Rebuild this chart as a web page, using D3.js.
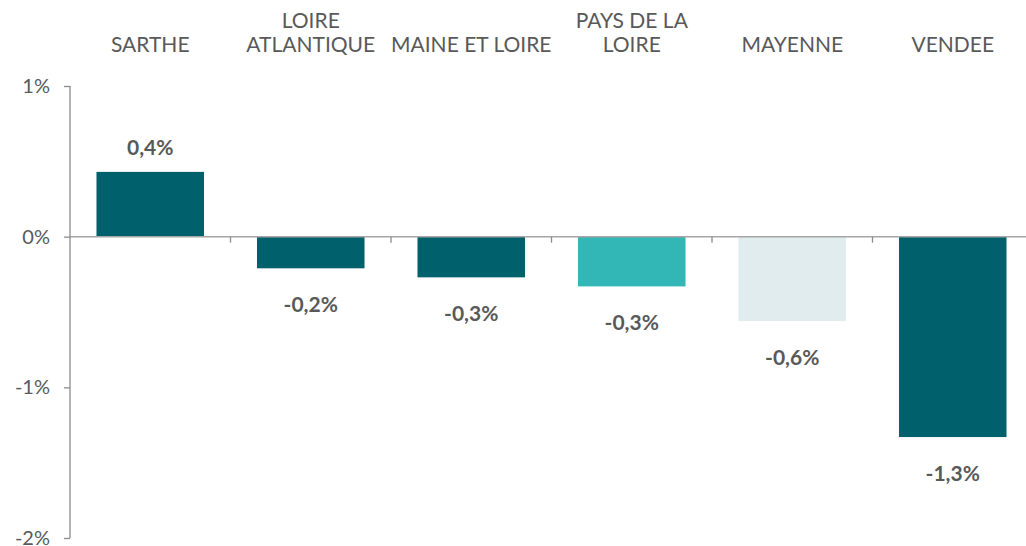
<!DOCTYPE html>
<html>
  <head>
    <meta charset="utf-8" />
    <title>Variation par département</title>
    <script src="https://d3js.org/d3.v7.min.js"></script>
    <style>
      body {
        margin: 0;
        background-color: #ffffff;
      }
      text {
        font-family: "Lato", "Open Sans", sans-serif;
      }
    </style>
  </head>
  <body>
    <svg id="chart">
      <g id="bars"></g>
      <g id="x"></g>
      <g id="y"></g>
      <g id="labels"></g>
      <g id="heads"></g>
    </svg>

    <script>

      // data
      var categories = ["SARTHE", "LOIRE ATLANTIQUE", "MAINE ET LOIRE", "PAYS DE LA LOIRE", "MAYENNE", "VENDEE"];
      var headLines = [["SARTHE"], ["LOIRE", "ATLANTIQUE"], ["MAINE ET LOIRE"], ["PAYS DE LA", "LOIRE"], ["MAYENNE"], ["VENDEE"]];
      var values = [0.43, -0.21, -0.27, -0.33, -0.56, -1.33];
      var valueLabels = ["0,4%", "-0,2%", "-0,3%", "-0,3%", "-0,6%", "-1,3%"];
      var barColors = ["#00606b", "#00606b", "#00606b", "#33b6b6", "#e0ecee", "#00606b"];
      var yTicks = [1, 0, -1, -2];
      var yTickLabels = ["1%", "0%", "-1%", "-2%"];

      var width = 1026;
      var height = 546;
      var margin = { top: 86, right: -7, bottom: 8, left: 70 };
      var textColor = "#595959";
      var axisColor = "#8c8c8c";

      var svg = d3.select("#chart")
        .attr("width", width)
        .attr("height", height);

      var x = d3.scaleBand()
        .domain(categories)
        .range([margin.left, width - margin.right])
        .paddingInner(0.33)
        .paddingOuter(0.165);

      var y = d3.scaleLinear()
        .domain([-2, 1])
        .range([height - margin.bottom, margin.top]);

      // bars
      svg.select("#bars").selectAll("rect")
        .data(values)
        .enter().append("rect")
        .attr("x", function(d, i) { return x(categories[i]); })
        .attr("width", x.bandwidth())
        .attr("y", function(d) { return y(Math.max(0, d)); })
        .attr("height", function(d) { return Math.abs(y(d) - y(0)); })
        .attr("fill", function(d, i) { return barColors[i]; });

      // y axis
      var yAxis = d3.axisLeft(y)
        .tickValues(yTicks)
        .tickSize(6)
        .tickPadding(14)
        .tickFormat(function(d, i) { return yTickLabels[i]; });

      var gy = svg.select("#y")
        .attr("transform", "translate(" + margin.left + ",0)")
        .call(yAxis);
      gy.select(".domain").remove();
      gy.append("line")
        .attr("x1", 0).attr("x2", 0)
        .attr("y1", y(1)).attr("y2", y(-2))
        .attr("stroke", axisColor)
        .attr("stroke-width", 1.3);
      gy.selectAll(".tick line").attr("stroke", axisColor).attr("stroke-width", 1.3);
      gy.selectAll(".tick text")
        .attr("fill", textColor)
        .attr("font-size", "20px");

      // zero line with category separators
      var step = x.step();
      var separators = categories.slice(1).map(function(c) {
        return x(c) - x.paddingInner() * step / 2;
      });
      var gx = svg.select("#x");
      gx.append("line")
        .attr("x1", margin.left).attr("x2", width)
        .attr("y1", y(0)).attr("y2", y(0))
        .attr("stroke", "#a6a6a6")
        .attr("stroke-width", 1.5);
      gx.selectAll(".sep")
        .data(separators)
        .enter().append("line")
        .attr("class", "sep")
        .attr("x1", function(d) { return d; })
        .attr("x2", function(d) { return d; })
        .attr("y1", y(0))
        .attr("y2", y(0) + 6)
        .attr("stroke", axisColor)
        .attr("stroke-width", 1.3);

      // value labels
      svg.select("#labels").selectAll("text")
        .data(values)
        .enter().append("text")
        .attr("x", function(d, i) { return x(categories[i]) + x.bandwidth() / 2; })
        .attr("y", function(d) { return d >= 0 ? y(d) - 17 : y(d) + 44; })
        .attr("text-anchor", "middle")
        .attr("font-size", "21px")
        .attr("font-weight", "bold")
        .attr("fill", textColor)
        .text(function(d, i) { return valueLabels[i]; });

      // category headers at top
      var heads = svg.select("#heads").selectAll("text")
        .data(headLines)
        .enter().append("text")
        .attr("text-anchor", "middle")
        .attr("font-size", "21px")
        .attr("fill", textColor)
        .attr("transform", function(d, i) {
          return "translate(" + (x(categories[i]) + x.bandwidth() / 2) + ",0)";
        });

      heads.selectAll("tspan")
        .data(function(d) { return d; })
        .enter().append("tspan")
        .attr("x", 0)
        .attr("y", function(d, j, nodes) {
          var n = nodes.length;
          return 52 - (n - 1 - j) * 24;
        })
        .text(function(d) { return d; });

    </script>
  </body>
</html>
